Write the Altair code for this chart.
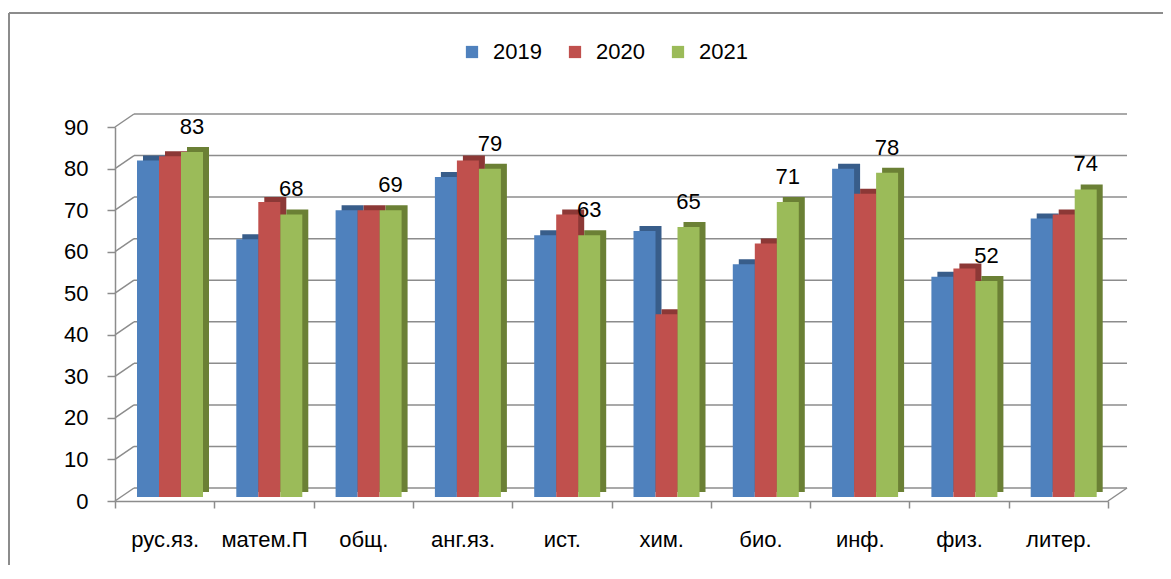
import altair as alt
import pandas as pd

categories = ["рус.яз.", "матем.П", "общ.", "анг.яз.", "ист.", "хим.", "био.", "инф.", "физ.", "литер."]
years = ["2019", "2020", "2021"]
v2019 = [81, 62, 69, 77, 63, 64, 56, 79, 53, 67]
v2020 = [82, 71, 69, 81, 68, 44, 61, 73, 55, 68]
v2021 = [83, 68, 69, 79, 63, 65, 71, 78, 52, 74]
y_ticks = [0, 10, 20, 30, 40, 50, 60, 70, 80, 90]

colors = ["#4f81bd", "#c0504d", "#9bbb59"]
dark_colors = ["#385d8a", "#8c3836", "#6b8035"]

FONT = "Liberation Sans"
FS = 22
GRID = "#8c8c8c"
W, H = 993, 374
DX, DY = 19, -13          # back-wall depth offset
BAR_W = 22                # width of one bar
GROUP_START = 22          # left gap in each category band
BAR_DX, BAR_DY = 6, -5    # bar depth (side/top faces)
BASE_DY = -4

rows = []
for yr, vals in zip(years, [v2019, v2020, v2021]):
    for c, v in zip(categories, vals):
        rows.append({"cat": c, "year": yr, "value": v})
df = pd.DataFrame(rows)
ticks_df = pd.DataFrame({"v": y_ticks})
zero_df = pd.DataFrame({"v": [0]})

x_scale = alt.Scale(domain=categories, paddingInner=0, paddingOuter=0)
y_scale = alt.Scale(domain=[0, 90], nice=False)
step = W / len(categories)
outer = (step / BAR_W - 3) / 2
align = GROUP_START / (step - 3 * BAR_W)
xo_scale = alt.Scale(domain=years, paddingInner=0, paddingOuter=outer, align=align)

x_axis = alt.Axis(title=None, labelAngle=0, tickBand="extent", domainColor=GRID, tickColor=GRID,
                  tickSize=7, labelPadding=21, labelFontSize=FS, labelFont=FONT, labelColor="#000",
                  domainWidth=1.5, tickWidth=1.5, grid=False)
y_axis = alt.Axis(title=None, values=y_ticks, grid=False, domainColor=GRID, tickColor=GRID,
                  tickSize=8, labelPadding=19, labelFontSize=FS, labelFont=FONT, labelColor="#000",
                  domainWidth=1.5, tickWidth=1.5)

X = alt.X("cat:N", sort=categories, scale=x_scale, axis=x_axis)
Y = alt.Y("value:Q", scale=y_scale, axis=y_axis)
YV = alt.Y("v:Q", scale=y_scale, axis=y_axis)

border_left = alt.Chart(zero_df).mark_rule(color=GRID, strokeWidth=2).encode(
    x=alt.value(-106), y=alt.value(-114), y2=alt.value(600))
border_top = alt.Chart(zero_df).mark_rule(color=GRID, strokeWidth=2).encode(
    x=alt.value(-106), x2=alt.value(1300), y=alt.value(-114))

grid_back = alt.Chart(ticks_df).mark_rule(color=GRID, strokeWidth=1.5, yOffset=DY).encode(
    y=YV, x=alt.value(DX), x2=alt.value(W + DX))
grid_side = alt.Chart(ticks_df).mark_rule(color=GRID, strokeWidth=1.5, y2Offset=DY).encode(
    y=YV, y2=alt.Y2("v:Q"), x=alt.value(0), x2=alt.value(DX))
floor_right = alt.Chart(zero_df).mark_rule(color=GRID, strokeWidth=1.5, y2Offset=DY).encode(
    y=YV, y2=alt.Y2("v:Q"), x=alt.value(W), x2=alt.value(W + DX))

dark_layers = []
for i, yr in enumerate(years):
    off = GROUP_START + BAR_W * i + BAR_W / 2 - step / 2 + BAR_DX
    dark_layers.append(
        alt.Chart(df).transform_filter(alt.datum.year == yr).mark_bar(
            color=dark_colors[i], width=BAR_W, xOffset=off,
            yOffset=BASE_DY + BAR_DY, y2Offset=BASE_DY + BAR_DY).encode(x=X, y=Y)
    )

bars = alt.Chart(df).mark_bar(yOffset=BASE_DY, y2Offset=BASE_DY).encode(
    x=X,
    xOffset=alt.XOffset("year:N", scale=xo_scale),
    y=Y,
    color=alt.Color("year:N", scale=alt.Scale(domain=years, range=colors),
                    legend=alt.Legend(orient="none", legendX=346, legendY=-86, direction="horizontal",
                                      title=None, symbolType="square", symbolSize=150,
                                      symbolStrokeWidth=0, labelFontSize=FS, labelFont=FONT,
                                      labelColor="#000", labelOffset=10, columnPadding=22)),
)

labels = alt.Chart(df).transform_filter(alt.datum.year == "2021").mark_text(
    dy=-29, fontSize=FS, font=FONT, color="#000", baseline="middle").encode(
    x=X,
    xOffset=alt.XOffset("year:N", scale=xo_scale),
    y=Y,
    text=alt.Text("value:Q"),
)

chart = alt.layer(border_left, border_top, grid_back, grid_side, floor_right, *dark_layers, bars, labels).properties(
    width=W, height=H,
    autosize=alt.AutoSizeParams(type="none"),
    padding={"left": 107, "top": 119, "right": 55, "bottom": 64},
    background="white",
).configure_view(stroke=None)

chart.save("out.html", embed_options={"renderer": "svg", "actions": False})
